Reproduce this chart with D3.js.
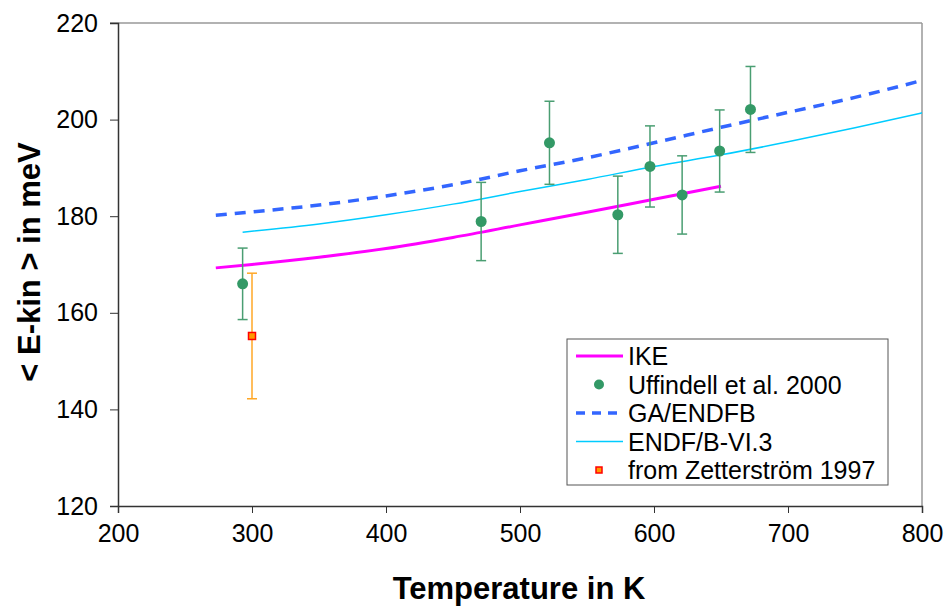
<!DOCTYPE html>
<html>
<head>
<meta charset="utf-8">
<script src="https://cdn.jsdelivr.net/npm/d3@7"></script>
<style>
  body { margin: 0; background: #fff; }
  svg { display: block; font-family: "Liberation Sans", Arial, sans-serif; }
</style>
</head>
<body>
<div id="chart"></div>
<script>
const width = 945, height = 607;
const margin = { top: 23, right: 23, bottom: 101, left: 118 };
const innerWidth = width - margin.left - margin.right;
const innerHeight = height - margin.top - margin.bottom;

// IKE curve
const ikeT = [273, 300, 350, 400, 450, 500, 550, 600, 650];
const ikeE = [169.3, 170.0, 171.5, 173.3, 175.6, 178.2, 180.8, 183.5, 186.2];

// GA/ENDFB curve
const gaT = [273, 300, 350, 400, 450, 500, 550, 600, 650, 700, 750, 800];
const gaE = [180.2, 180.9, 182.3, 184.2, 186.5, 189.4, 192.1, 195.2, 198.4, 201.5, 204.6, 208.1];

// ENDF/B-VI.3 curve
const endfT = [293, 350, 400, 450, 500, 550, 600, 650, 700, 750, 800];
const endfE = [176.7, 178.4, 180.3, 182.5, 185.1, 187.6, 190.3, 192.7, 195.4, 198.3, 201.4];

// Uffindell et al. 2000 measurements
const uffT = [293, 471, 522, 573, 597, 621, 649, 672];
const uffE = [166.0, 178.9, 195.2, 180.3, 190.3, 184.4, 193.5, 202.1];
const uffErr = [7.4, 8.1, 8.6, 8.0, 8.4, 8.1, 8.5, 8.9];

// from Zetterström 1997
const zetT = [300];
const zetE = [155.2];
const zetErr = [13.0];

const xTicks = [200, 300, 400, 500, 600, 700, 800];
const yTicks = [120, 140, 160, 180, 200, 220];

const x = d3.scaleLinear().domain([200, 800]).range([0, innerWidth]);
const y = d3.scaleLinear().domain([120, 220]).range([innerHeight, 0]);

const svg = d3.select("#chart").append("svg")
    .attr("width", width)
    .attr("height", height);

const g = svg.append("g")
    .attr("transform", `translate(${margin.left}, ${margin.top})`);

// frame: gray top and right
g.append("line")
    .attr("x1", -8).attr("x2", innerWidth)
    .attr("y1", 0).attr("y2", 0)
    .attr("stroke", "#999").attr("stroke-width", 1.5);
g.append("line")
    .attr("x1", innerWidth).attr("x2", innerWidth)
    .attr("y1", 0).attr("y2", innerHeight)
    .attr("stroke", "#999").attr("stroke-width", 1.5);

// axes
g.append("g")
    .attr("transform", `translate(0, ${innerHeight})`)
    .call(d3.axisBottom(x).tickValues(xTicks).tickSize(7).tickPadding(11).tickFormat(d3.format("d")))
    .call(a => a.select(".domain").attr("stroke", "#333").attr("stroke-width", 1.5))
    .call(a => a.selectAll(".tick line").attr("stroke", "#333"))
    .call(a => a.selectAll(".tick text")
        .style("font-size", "25px")
        .style("fill", "#000"));

g.append("g")
    .call(d3.axisLeft(y).tickValues(yTicks).tickSize(8).tickPadding(12).tickFormat(d3.format("d")))
    .call(a => a.select(".domain").attr("stroke", "#333").attr("stroke-width", 1.5))
    .call(a => a.selectAll(".tick line").attr("stroke", "#333"))
    .call(a => a.selectAll(".tick text")
        .style("font-size", "25px")
        .style("fill", "#000"));

// axis titles
svg.append("text")
    .attr("x", 519)
    .attr("y", 599)
    .attr("text-anchor", "middle")
    .style("font-size", "31px")
    .style("font-weight", "bold")
    .text("Temperature in K");

svg.append("text")
    .attr("transform", `translate(40, 262) rotate(-90)`)
    .attr("text-anchor", "middle")
    .style("font-size", "31px")
    .style("font-weight", "bold")
    .text("< E-kin > in meV");

const line = d3.line()
    .x(d => x(d[0]))
    .y(d => y(d[1]))
    .curve(d3.curveMonotoneX);

g.append("path")
    .datum(endfT.map((t, i) => [t, endfE[i]]))
    .attr("d", line)
    .attr("fill", "none")
    .attr("stroke", "#00CCFF")
    .attr("stroke-width", 1.5);

g.append("path")
    .datum(gaT.map((t, i) => [t, gaE[i]]))
    .attr("d", line)
    .attr("fill", "none")
    .attr("stroke", "#3366FF")
    .attr("stroke-width", 3.5)
    .attr("stroke-dasharray", "11,8");

g.append("path")
    .datum(ikeT.map((t, i) => [t, ikeE[i]]))
    .attr("d", line)
    .attr("fill", "none")
    .attr("stroke", "#FF00FF")
    .attr("stroke-width", 3);

// error bars
function errorBars(ts, es, errs, color) {
    const eb = g.append("g").attr("stroke", color).attr("stroke-width", 1.5);
    ts.forEach((t, i) => {
        const cx = x(t);
        const y1 = y(es[i] + errs[i]);
        const y2 = y(es[i] - errs[i]);
        eb.append("line").attr("x1", cx).attr("x2", cx).attr("y1", y1).attr("y2", y2);
        eb.append("line").attr("x1", cx - 5).attr("x2", cx + 5).attr("y1", y1).attr("y2", y1);
        eb.append("line").attr("x1", cx - 5).attr("x2", cx + 5).attr("y1", y2).attr("y2", y2);
    });
}

errorBars(uffT, uffE, uffErr, "#4a9e72");
errorBars(zetT, zetE, zetErr, "#FFA726");

g.selectAll(".uff")
    .data(uffT)
    .join("circle")
    .attr("class", "uff")
    .attr("cx", d => x(d))
    .attr("cy", (d, i) => y(uffE[i]))
    .attr("r", 5.5)
    .attr("fill", "#339966");

g.selectAll(".zet")
    .data(zetT)
    .join("rect")
    .attr("class", "zet")
    .attr("x", d => x(d) - 3.5)
    .attr("y", (d, i) => y(zetE[i]) - 3.5)
    .attr("width", 7)
    .attr("height", 7)
    .attr("fill", "#FF9900")
    .attr("stroke", "#FF0000")
    .attr("stroke-width", 1.5);

// legend
const legend = svg.append("g").attr("transform", "translate(567, 339)");
legend.append("rect")
    .attr("width", 321)
    .attr("height", 146)
    .attr("fill", "#fff")
    .attr("stroke", "#555")
    .attr("stroke-width", 1);

const legendItems = ["IKE", "Uffindell et al. 2000", "GA/ENDFB", "ENDF/B-VI.3", "from Zetterström 1997"];
const rowY = i => 17 + i * 28.5;

legendItems.forEach((label, i) => {
    const cy = rowY(i);
    if (i === 0) {
        legend.append("line").attr("x1", 9).attr("x2", 56).attr("y1", cy).attr("y2", cy)
            .attr("stroke", "#FF00FF").attr("stroke-width", 3);
    } else if (i === 1) {
        legend.append("circle").attr("cx", 32).attr("cy", cy).attr("r", 5).attr("fill", "#339966");
    } else if (i === 2) {
        legend.append("line").attr("x1", 9).attr("x2", 56).attr("y1", cy).attr("y2", cy)
            .attr("stroke", "#3366FF").attr("stroke-width", 3.5).attr("stroke-dasharray", "9,7");
    } else if (i === 3) {
        legend.append("line").attr("x1", 9).attr("x2", 56).attr("y1", cy).attr("y2", cy)
            .attr("stroke", "#00CCFF").attr("stroke-width", 1.5);
    } else {
        legend.append("rect").attr("x", 29).attr("y", cy - 3).attr("width", 6).attr("height", 6)
            .attr("fill", "#FF9900").attr("stroke", "#FF0000").attr("stroke-width", 1.5);
    }
    legend.append("text")
        .attr("x", 61)
        .attr("y", cy + 9)
        .style("font-size", "25px")
        .style("fill", "#000")
        .text(label);
});
</script>
</body>
</html>
